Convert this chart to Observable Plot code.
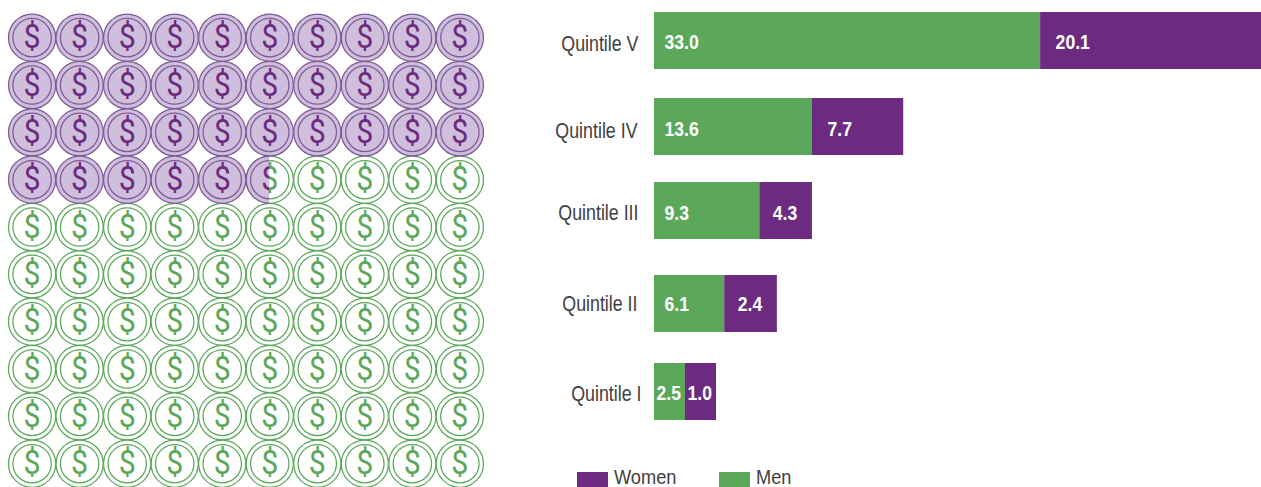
<!DOCTYPE html>
<html>
<head>
<meta charset="utf-8">
<script src="https://cdn.jsdelivr.net/npm/d3@7"></script>
<script src="https://cdn.jsdelivr.net/npm/@observablehq/plot@0.6"></script>
<style>
html,body{margin:0;padding:0;background:#fff;overflow:hidden}
#page{position:relative;width:1261px;height:487px;overflow:hidden;font-family:"Liberation Sans",sans-serif}
#waffle,#bars{position:absolute;top:0}
#waffle{left:0}
#bars{left:520px}
.lg{position:absolute;top:472px;height:15px;width:31px}
.lt{position:absolute;top:468px;font-size:20px;line-height:18px;color:#414042;transform:scaleX(.91);transform-origin:left center}
</style>
</head>
<body>
<div id="page">
  <div id="waffle"></div>
  <div id="bars"></div>
</div>
<script>
// --- data ---
const quintiles = ["Quintile V", "Quintile IV", "Quintile III", "Quintile II", "Quintile I"];
const menLabels = ["33.0", "13.6", "9.3", "6.1", "2.5"];
const womenLabels = ["20.1", "7.7", "4.3", "2.4", "1.0"];
const menLengths = [33.0, 13.5, 9.0, 6.0, 2.65];     // drawn bar lengths
const womenLengths = [18.9, 7.8, 4.5, 4.5, 2.65];
const legendItems = ["Women", "Men"];
const womenCoins = 35.5;   // coins out of 100

// --- styles ---
const purple = "#6c2a80", green = "#5ca85a", coinFill = "#cfbfdc", coinStroke = "#7d5a97";
const font = '"Liberation Sans",sans-serif';
const rowNudge = [2, 0, -4, 1, 1];
const axisNudge = [3, 4, 2, 0, 2];
const valueNudge = [1, 2, 2, 0, 1];
const axisPad = [16, 17, 16, 17, 13];
const menInset = [10, 10, 10, 10, 2];
const womenInset = [15, 15, 13, 13, 2];

// narrows each text of a mark about its own anchor (no condensed face is installed)
const narrow = k => (index, scales, values, dims, context, next) => {
  const g = next(index, scales, values, dims, context);
  g.querySelectorAll("text").forEach(t => {
    t.setAttribute("transform", `${t.getAttribute("transform") || ""} scale(${k},1)`);
  });
  return g;
};

// --- waffle ---
const coins = d3.range(100).map(i => ({i, row: Math.floor(i / 10), col: i % 10}));
const fullWomen = Math.floor(womenCoins);
const frac = womenCoins - fullWomen;
const greenCoins = coins.filter(d => d.i >= fullWomen);
const purpleCoins = coins.filter(d => d.i < fullWomen);
const partial = coins.filter(d => d.i === fullWomen);
const partialCol = partial[0].col;

const clipLeft = inner => (index, scales, values, dims, context, next) => {
  const g = inner ? inner(index, scales, values, dims, context, next) : next(index, scales, values, dims, context);
  const id = "split-clip-" + Math.random().toString(36).slice(2);
  const cut = scales.x(partialCol + frac - 0.5);
  const cp = d3.create("svg:clipPath").attr("id", id);
  cp.append("rect").attr("x", 0).attr("y", 0).attr("width", cut).attr("height", dims.height);
  const wrap = context.document.createElementNS("http://www.w3.org/2000/svg", "g");
  wrap.appendChild(cp.node());
  wrap.appendChild(g);
  wrap.setAttribute("clip-path", `url(#${id})`);
  return wrap;
};

function coinMarks(data, fill, stroke, glyph, clip) {
  const ringRender = clip ? clipLeft() : undefined;
  const textRender = clip ? clipLeft(narrow(0.92)) : narrow(0.92);
  const ring = {x: "col", y: "row", stroke, strokeWidth: 1.25, render: ringRender};
  return [
    Plot.dot(data, {...ring, r: 23.6, fill}),
    Plot.dot(data, {...ring, r: 19.2, fill: "none"}),
    Plot.text(data, {x: "col", y: "row", text: () => "$", fill: glyph, fontSize: 33, fontFamily: "Roboto", render: textRender})
  ];
}

document.getElementById("waffle").appendChild(Plot.plot({
  width: 500, height: 487,
  margin: 0,
  x: {domain: [0, 9], range: [31.6, 459.4], axis: null},
  y: {domain: [0, 9], range: [37.2, 463.2], axis: null},
  marks: [
    ...coinMarks(greenCoins, "#fff", green, green),
    ...coinMarks(purpleCoins, coinFill, coinStroke, purple),
    ...coinMarks(partial, coinFill, coinStroke, purple, true)
  ]
}));

// --- bars ---
const rows = quintiles.map((q, i) => ({q, i, men: menLengths[i], women: womenLengths[i],
  menLabel: menLabels[i], womenLabel: womenLabels[i]}));
const labelStyle = {fill: "#fff", fontSize: 21, fontWeight: 700, fontFamily: font, textAnchor: "start", render: narrow(0.84)};

document.getElementById("bars").appendChild(Plot.plot({
  width: 741, height: 487,
  marginTop: 0, marginBottom: 0, marginRight: 0, marginLeft: 134,
  x: {domain: [0, 607 / 11.7], axis: null},
  y: {domain: quintiles, range: [10, 419], paddingInner: 31 / 88, paddingOuter: 0, round: false, label: null, axis: null},
  marks: rows.flatMap(r => {
    const one = [r], dy = rowNudge[r.i], ty = dy + valueNudge[r.i];
    return [
      Plot.axisY({ticks: [r.q], anchor: "left", tickSize: 0, tickPadding: axisPad[r.i], label: null, dy: dy + axisNudge[r.i],
        fontSize: 22, fontFamily: font, fill: "#414042", render: narrow(0.81)}),
      Plot.barX(one, {x1: 0, x2: "men", y: "q", fill: green, dy}),
      Plot.barX(one, {x1: "men", x2: d => d.men + d.women, y: "q", fill: purple, dy}),
      Plot.text(one, {x: 0, y: "q", text: "menLabel", dx: menInset[r.i], dy: ty, ...labelStyle}),
      Plot.text(one, {x: "men", y: "q", text: "womenLabel", dx: womenInset[r.i], dy: ty, ...labelStyle})
    ];
  })
}));

// --- legend ---
const page = document.getElementById("page");
const legendX = [577, 719], legendFill = [purple, green];
legendItems.forEach((t, i) => {
  const s = document.createElement("div");
  s.className = "lg"; s.style.left = legendX[i] + "px"; s.style.background = legendFill[i];
  const l = document.createElement("div");
  l.className = "lt"; l.style.left = (legendX[i] + 37) + "px"; l.textContent = t;
  page.append(s, l);
});
</script>
</body>
</html>
